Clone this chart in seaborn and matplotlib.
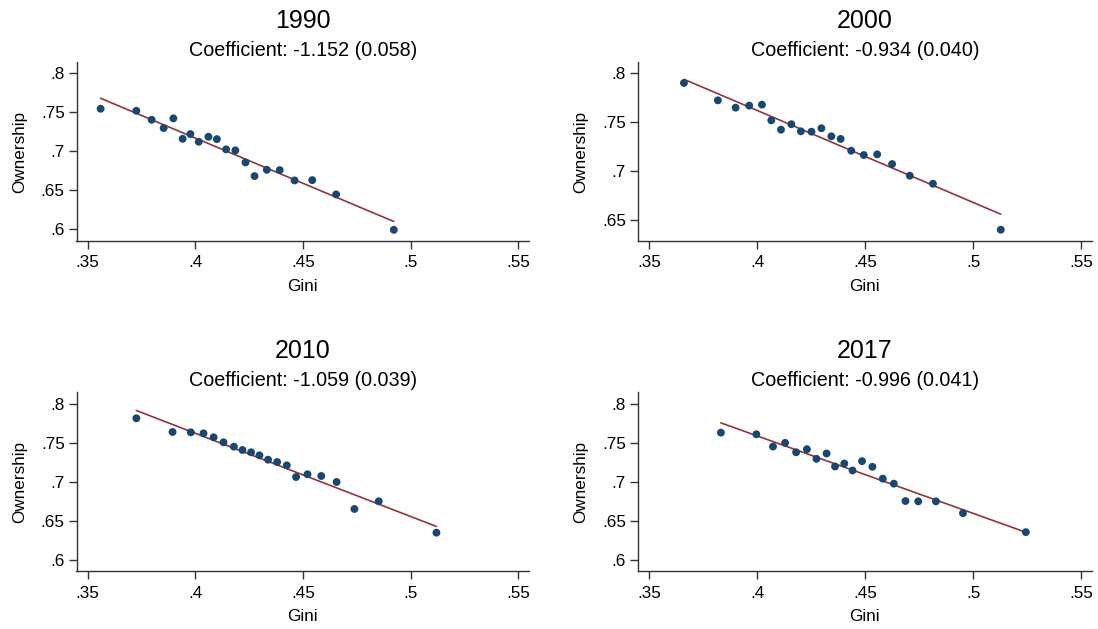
import numpy as np
import pandas as pd
import matplotlib
matplotlib.use("Agg")
import matplotlib.pyplot as plt
import matplotlib.transforms as mtransforms
from matplotlib.ticker import FuncFormatter
import seaborn as sns

# ---- data ----
years = ["1990", "2000", "2010", "2017"]
subtitles = ["Coefficient: -1.152 (0.058)", "Coefficient: -0.934 (0.040)",
             "Coefficient: -1.059 (0.039)", "Coefficient: -0.996 (0.041)"]

gini_1990 = [0.356, 0.3726, 0.3797, 0.3853, 0.3898, 0.3941, 0.3977, 0.4016, 0.4061, 0.4100,
             0.4143, 0.4186, 0.4233, 0.4275, 0.4332, 0.4392, 0.4461, 0.4543, 0.4654, 0.4922]
own_1990 = [0.7544, 0.7518, 0.7402, 0.7295, 0.7420, 0.7157, 0.7218, 0.7119, 0.7183, 0.7153,
            0.7021, 0.7008, 0.6853, 0.6677, 0.6758, 0.6754, 0.6621, 0.6625, 0.6441, 0.5985]

gini_2000 = [0.3662, 0.3819, 0.3901, 0.3964, 0.4023, 0.4066, 0.4111, 0.4159, 0.4203, 0.4252,
             0.4298, 0.4344, 0.4387, 0.4436, 0.4494, 0.4556, 0.4625, 0.4707, 0.4814, 0.5128]
own_2000 = [0.7901, 0.7724, 0.7649, 0.7670, 0.7680, 0.7520, 0.7425, 0.7480, 0.7408, 0.7404,
            0.7439, 0.7357, 0.7330, 0.7210, 0.7166, 0.7173, 0.7074, 0.6955, 0.6873, 0.6404]

gini_2010 = [0.3726, 0.3894, 0.3979, 0.4038, 0.4085, 0.4131, 0.4179, 0.4219, 0.4259, 0.4298,
             0.4338, 0.4380, 0.4425, 0.4468, 0.4521, 0.4585, 0.4656, 0.4739, 0.4852, 0.5120]
own_2010 = [0.7817, 0.7641, 0.7637, 0.7624, 0.7573, 0.7509, 0.7453, 0.7410, 0.7381, 0.7342,
            0.7286, 0.7256, 0.7214, 0.7064, 0.7099, 0.7077, 0.7000, 0.6654, 0.6753, 0.6350]

gini_2017 = [0.3833, 0.3997, 0.4074, 0.4130, 0.4181, 0.4231, 0.4275, 0.4322, 0.4361, 0.4404,
             0.4442, 0.4486, 0.4534, 0.4582, 0.4633, 0.4687, 0.4746, 0.4828, 0.4953, 0.5244]
own_2017 = [0.7634, 0.7613, 0.7456, 0.7503, 0.7383, 0.7422, 0.7299, 0.7367, 0.7201, 0.7239,
            0.7150, 0.7269, 0.7197, 0.7045, 0.6981, 0.6759, 0.6755, 0.6755, 0.6603, 0.6361]

x_ticks = [0.35, 0.40, 0.45, 0.50, 0.55]
y_ticks_full = [0.60, 0.65, 0.70, 0.75, 0.80]
y_ticks_2000 = [0.65, 0.70, 0.75, 0.80]

ginis = [gini_1990, gini_2000, gini_2010, gini_2017]
owns = [own_1990, own_2000, own_2010, own_2017]

# ---- styling ----
sns.set_style("ticks")
plt.rcParams['font.family'] = ['Liberation Sans', 'DejaVu Sans']
plt.rcParams['text.color'] = 'black'
plt.rcParams['axes.labelcolor'] = 'black'

W, H = 1098, 629
fig = plt.figure(figsize=(W / 100, H / 100), dpi=100)

# axes boxes in pixels: (left, top, right, bottom)
boxes = [(76.5, 62.3, 529, 240.7), (637.7, 62.3, 1092, 240.7),
         (76.5, 392.3, 529, 571.3), (637.7, 392.3, 1092, 571.3)]
ylims = [(0.5845, 0.8142), (0.6292, 0.8112), (0.5855, 0.815), (0.586, 0.815)]
yticks_list = [y_ticks_full, y_ticks_2000, y_ticks_full, y_ticks_full]

fmt = FuncFormatter(lambda v, p: ("%g" % round(v, 3)).lstrip("0"))

marker_color = "#1a476f"
line_color = "#90353b"
fs_tick = 12.3

for i in range(4):
    l, t, r, b = boxes[i]
    ax = fig.add_axes([l / W, 1 - b / H, (r - l) / W, (b - t) / H])
    df = pd.DataFrame({"Gini": ginis[i], "Ownership": owns[i]})
    sns.regplot(data=df, x="Gini", y="Ownership", ax=ax, ci=None, truncate=True,
                scatter_kws=dict(s=32, color=marker_color, edgecolor="none", alpha=1, zorder=3),
                line_kws=dict(color=line_color, lw=1.2, zorder=2))
    ax.set_xlim(0.3448, 0.555)
    ax.set_ylim(*ylims[i])
    ax.set_xticks(x_ticks)
    ax.set_yticks(yticks_list[i])
    ax.xaxis.set_major_formatter(fmt)
    ax.yaxis.set_major_formatter(fmt)
    sns.despine(ax=ax)
    for sp in ["left", "bottom"]:
        ax.spines[sp].set_linewidth(1.0)
        ax.spines[sp].set_color("#333333")
    ax.tick_params(axis="both", length=5.5, width=1.0, color="#333333", labelsize=fs_tick,
                   labelcolor="black")
    ax.tick_params(axis="x", pad=5)
    ax.tick_params(axis="y", pad=3)
    ax.set_xlabel("Gini", fontsize=fs_tick, labelpad=6)
    ax.set_ylabel("Ownership", fontsize=fs_tick, labelpad=10)
    off_sub = mtransforms.offset_copy(ax.transAxes, fig=fig, x=0, y=12.3, units="dots")
    off_yr = mtransforms.offset_copy(ax.transAxes, fig=fig, x=0, y=41.6, units="dots")
    ax.text(0.5, 1.0, subtitles[i], transform=off_sub, ha="center", va="center", fontsize=14.2)
    ax.text(0.5, 1.0, years[i], transform=off_yr, ha="center", va="center", fontsize=18)

fig.savefig("out.png", dpi=100, facecolor="white")
